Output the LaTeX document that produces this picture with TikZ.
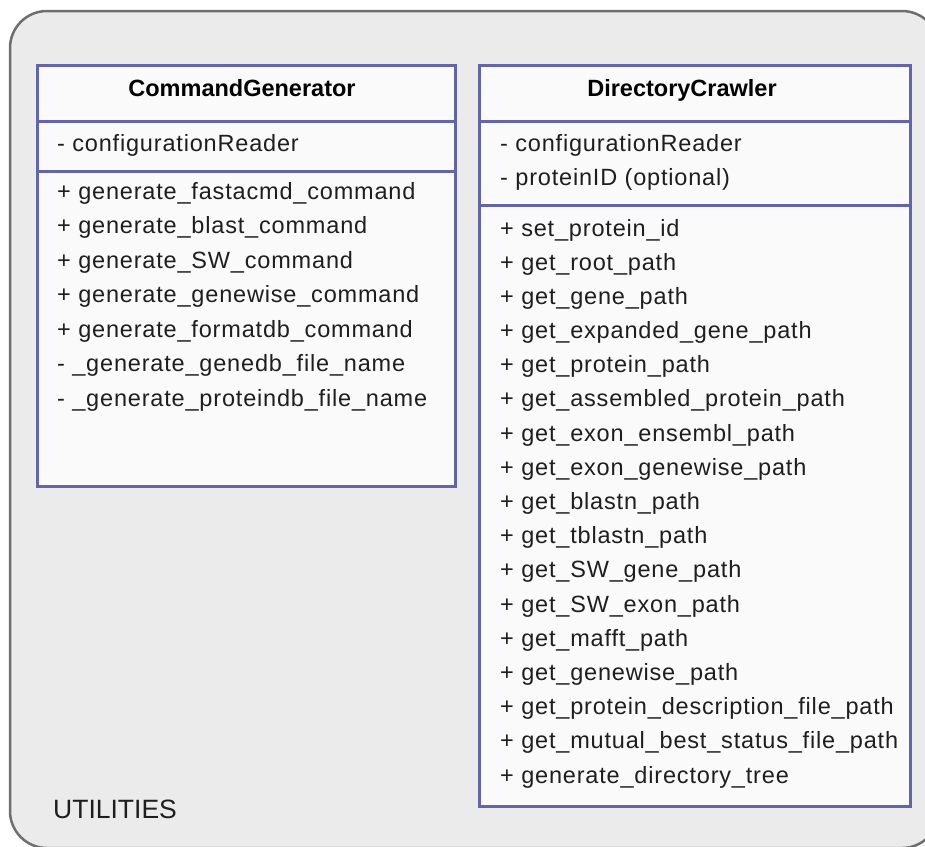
\documentclass[tikz,border=0pt]{standalone}
\usepackage{fontspec}
\setmainfont{Liberation Sans}
\newfontfamily\memberfont{Liberation Sans}[LetterSpace=3.5]
\definecolor{pkgfill}{HTML}{EBEBEB}
\definecolor{pkgline}{HTML}{6E6E6E}
\definecolor{clsline}{HTML}{6464AA}
\definecolor{clsfill}{HTML}{FAFAFA}
\definecolor{membertext}{HTML}{1E1E1E}

\begin{document}
\begin{tikzpicture}[x=1pt,y=-1pt,
  member/.style={anchor=base west, inner sep=0pt, text=membertext,
    font=\memberfont\fontsize{23.5}{28}\selectfont},
  classtitle/.style={anchor=base, inner sep=0pt, text=black,
    font=\fontsize{23.5}{28}\selectfont\bfseries},
  pkglabel/.style={anchor=base west, inner sep=0pt, text=membertext,
    font=\fontsize{26.5}{30}\selectfont},
  classbox/.style={rectangle, draw=clsline, fill=clsfill, line width=3pt,
    inner sep=0pt, outer sep=0pt, anchor=north west},
  divider/.style={draw=clsline, line width=3pt}]
\useasboundingbox (0,0) rectangle (925,846);

% package frame
\draw[pkgline, fill=pkgfill, line width=2.5pt, rounded corners=37pt]
  (10,11) rectangle (939,848);
\node[pkglabel] (pkgname) at (53,818) {UTILITIES};

% class CommandGenerator
\node[classbox, minimum width=418pt, minimum height=421pt] (cg) at (37,65) {};
\draw[divider] ([yshift=-56pt]cg.north west) -- ([yshift=-56pt]cg.north east);
\draw[divider] ([yshift=-106pt]cg.north west) -- ([yshift=-106pt]cg.north east);
\node[classtitle] (cgtitle) at (242,96.5) {CommandGenerator};
\node[member] (cgattr1) at (57,151) {- configurationReader};
\foreach \txt [count=\i from 0] in {
  + generate\_fastacmd\_command,
  + generate\_blast\_command,
  + generate\_SW\_command,
  + generate\_genewise\_command,
  + generate\_formatdb\_command,
  - \_generate\_genedb\_file\_name,
  - \_generate\_proteindb\_file\_name}
  \node[member] (cgop\i) at (57,199+34.5*\i) {\txt};

% class DirectoryCrawler
\node[classbox, minimum width=431pt, minimum height=741pt] (dc) at (479,65) {};
\draw[divider] ([yshift=-56pt]dc.north west) -- ([yshift=-56pt]dc.north east);
\draw[divider] ([yshift=-140pt]dc.north west) -- ([yshift=-140pt]dc.north east);
\node[classtitle] (dctitle) at (682,96.5) {DirectoryCrawler};
\node[member] (dcattr1) at (500,151) {- configurationReader};
\node[member] (dcattr2) at (500,185.5) {- proteinID (optional)};
\foreach \txt [count=\i from 0] in {
  + set\_protein\_id,
  + get\_root\_path,
  + get\_gene\_path,
  + get\_expanded\_gene\_path,
  + get\_protein\_path,
  + get\_assembled\_protein\_path,
  + get\_exon\_ensembl\_path,
  + get\_exon\_genewise\_path,
  + get\_blastn\_path,
  + get\_tblastn\_path,
  + get\_SW\_gene\_path,
  + get\_SW\_exon\_path,
  + get\_mafft\_path,
  + get\_genewise\_path,
  + get\_protein\_description\_file\_path,
  + get\_mutual\_best\_status\_file\_path,
  + generate\_directory\_tree}
  \node[member] (dcop\i) at (500,236+34.19*\i) {\txt};
\end{tikzpicture}
\end{document}
